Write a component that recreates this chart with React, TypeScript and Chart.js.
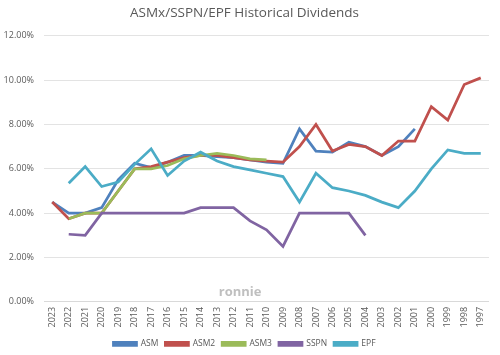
import React, { useEffect, useRef } from "react";
import { Chart, registerables } from "chart.js";

Chart.register(...registerables);

const years = [
  "2023", "2022", "2021", "2020", "2019", "2018", "2017", "2016", "2015", "2014",
  "2013", "2012", "2011", "2010", "2009", "2008", "2007", "2006", "2005", "2004",
  "2003", "2002", "2001", "2000", "1999", "1998", "1997",
];

const asm = [4.5, 4.0, 4.0, 4.25, 5.5, 6.25, 6.05, 6.3, 6.6, 6.6, 6.55, 6.5, 6.4, 6.3, 6.25, 7.8, 6.8, 6.75, 7.2, 7.0, 6.6, 7.0, 7.8, null, null, null, null];
const asm2 = [4.5, 3.75, 4.0, 4.0, 5.0, 6.0, 6.1, 6.3, 6.5, 6.6, 6.6, 6.5, 6.4, 6.35, 6.3, 7.0, 8.0, 6.8, 7.1, 7.0, 6.6, 7.25, 7.25, 8.8, 8.2, 9.8, 10.1];
const asm3 = [null, 3.75, 4.0, 4.0, 5.0, 6.0, 6.0, 6.15, 6.45, 6.6, 6.7, 6.6, 6.45, 6.4, null, null, null, null, null, null, null, null, null, null, null, null, null];
const sspn = [null, 3.05, 3.0, 4.0, 4.0, 4.0, 4.0, 4.0, 4.0, 4.25, 4.25, 4.25, 3.65, 3.25, 2.5, 4.0, 4.0, 4.0, 4.0, 3.0, null, null, null, null, null, null, null];
const epf = [null, 5.35, 6.1, 5.2, 5.4, 6.2, 6.9, 5.7, 6.35, 6.75, 6.35, 6.1, 5.95, 5.8, 5.65, 4.5, 5.8, 5.15, 5.0, 4.8, 4.5, 4.25, 5.0, 6.0, 6.85, 6.7, 6.7];

const seriesNames = ["ASM", "ASM2", "ASM3", "SSPN", "EPF"];
const seriesColors = ["#4F81BD", "#C0504D", "#9BBB59", "#8064A2", "#4BACC6"];
const seriesValues = [asm, asm2, asm3, sspn, epf];

const titleText = "ASMx/SSPN/EPF Historical Dividends";
const watermark = "ronnie";
const FONT = "'Open Sans', 'Liberation Sans', sans-serif";

const watermarkPlugin = {
  id: "watermark",
  afterDatasetsDraw(chart: any) {
    const { ctx, chartArea } = chart;
    ctx.save();
    ctx.font = "bold 13px " + FONT;
    ctx.fillStyle = "#BFBFBF";
    ctx.textAlign = "center";
    ctx.textBaseline = "middle";
    const x = chart.scales.x.getPixelForValue(11.4);
    ctx.fillText(watermark, x, chartArea.bottom - 10);
    ctx.restore();
  },
};

export default function App() {
  const ref = useRef<HTMLCanvasElement>(null);

  useEffect(() => {
    if (!ref.current) return;
    const n = seriesNames.length;
    const chart = new Chart(ref.current, {
      type: "line",
      data: {
        labels: years,
        datasets: seriesNames.map((name, i) => ({
          label: name,
          data: seriesValues[i],
          borderColor: seriesColors[i],
          backgroundColor: seriesColors[i],
          borderWidth: 2.75,
          pointRadius: 0,
          tension: 0,
          spanGaps: false,
          order: n - i,
        })),
      },
      options: {
        animation: false,
        responsive: true,
        maintainAspectRatio: false,
        layout: { padding: { left: 0, right: 0, top: -3, bottom: 0 } },
        plugins: {
          title: {
            display: true,
            text: titleText,
            color: "#595959",
            font: { size: 13.5, family: FONT, weight: "normal" },
            padding: { top: 0, bottom: 14.5 },
          },
          legend: {
            position: "bottom",
            labels: {
              boxWidth: 23,
              boxHeight: 3,
              color: "#595959",
              font: { size: 8.5, family: FONT },
              padding: 7,
              sort: (a: any, b: any) => a.datasetIndex - b.datasetIndex,
            },
          },
          tooltip: { enabled: false },
        },
        scales: {
          x: {
            offset: true,
            grid: { display: false, drawTicks: false, tickLength: 0 },
            border: { display: true, color: "#D9D9D9" },
            afterFit: (s: any) => {
              s.paddingLeft = 0;
              s.paddingRight = 0;
            },
            ticks: {
              color: "#595959",
              font: { size: 9, family: FONT },
              minRotation: 90,
              maxRotation: 90,
              autoSkip: false,
              padding: 5,
            },
          },
          y: {
            min: 0,
            max: 12,
            grid: { color: "#E3E3E3", drawTicks: false, tickLength: 0 },
            border: { display: false },
            afterFit: (s: any) => {
              s.width = 44;
            },
            ticks: {
              stepSize: 2,
              color: "#595959",
              font: { size: 9, family: FONT },
              padding: 10,
              callback: (v: any) => Number(v).toFixed(2) + "%",
            },
          },
        },
      },
      plugins: [watermarkPlugin],
    });
    return () => chart.destroy();
  }, []);

  return (
    <div style={{ position: "absolute", left: 0, top: 8, width: 489, height: 350 }}>
      <canvas ref={ref} />
    </div>
  );
}
